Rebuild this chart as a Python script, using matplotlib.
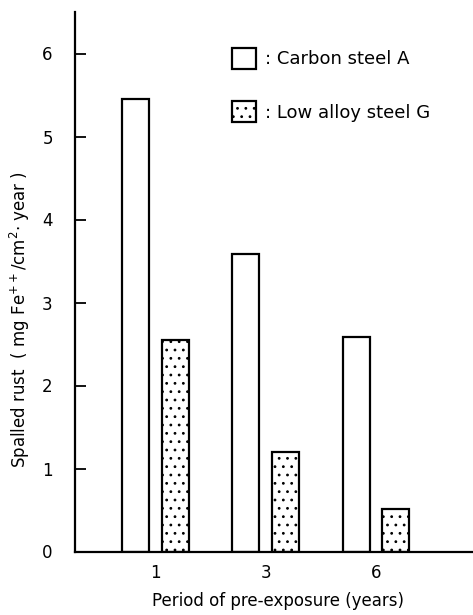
import matplotlib
matplotlib.use("Agg")
import matplotlib.pyplot as plt
import numpy as np
from matplotlib.patches import Patch

categories = ["1", "3", "6"]
carbon_steel_A = [5.45, 3.58, 2.59]
low_alloy_steel_G = [2.55, 1.2, 0.51]
series_labels = [": Carbon steel A", ": Low alloy steel G"]
y_ticks = [0, 1, 2, 3, 4, 5, 6]

plt.rcParams['font.family'] = ['DejaVu Sans']
plt.rcParams['hatch.linewidth'] = 0.8

fig = plt.figure(figsize=(4.73, 6.15), dpi=100)
ax = fig.add_axes([75/473, 1-551.5/615, 1-75/473, (551.5-12)/615])

x = np.arange(1, len(categories)+1)
w = 0.245
off = 0.18
ax.bar(x-off, carbon_steel_A, w, facecolor='white', edgecolor='black', linewidth=1.6)
ax.bar(x+off, low_alloy_steel_G, w, facecolor='white', edgecolor='black', linewidth=1.6, hatch='..')

ax.set_xlim(0.27, 3.88)
ax.set_ylim(0, 6.5)
ax.set_xticks(x)
ax.set_xticklabels(categories)
ax.set_yticks(y_ticks)
ax.tick_params(axis='x', length=0, pad=9, labelsize=12)
ax.tick_params(axis='y', direction='in', length=8, width=1.3, pad=16, labelsize=12)
for s in ['top', 'right']:
    ax.spines[s].set_visible(False)
for s in ['left', 'bottom']:
    ax.spines[s].set_linewidth(1.6)

fig.text(278/473, 1-601/615, "Period of pre-exposure (years)", fontsize=12,
         ha='center', va='center')
fig.text(0.042, 0.48, r"Spalled rust  ( mg Fe$^{++}$/cm$^{2}$$\cdot$ year )",
         rotation=90, ha='center', va='center', fontsize=12)

handles = [Patch(facecolor='white', edgecolor='black', linewidth=1.6),
           Patch(facecolor='white', edgecolor='black', linewidth=1.6, hatch='..')]
ax.legend(handles, series_labels, frameon=False, loc='upper left',
          bbox_to_anchor=(0.372, 0.95), borderpad=0, handlelength=1.3,
          handleheight=1.4, labelspacing=1.8, handletextpad=0.5, fontsize=13)

fig.savefig("out.png", dpi=100)
